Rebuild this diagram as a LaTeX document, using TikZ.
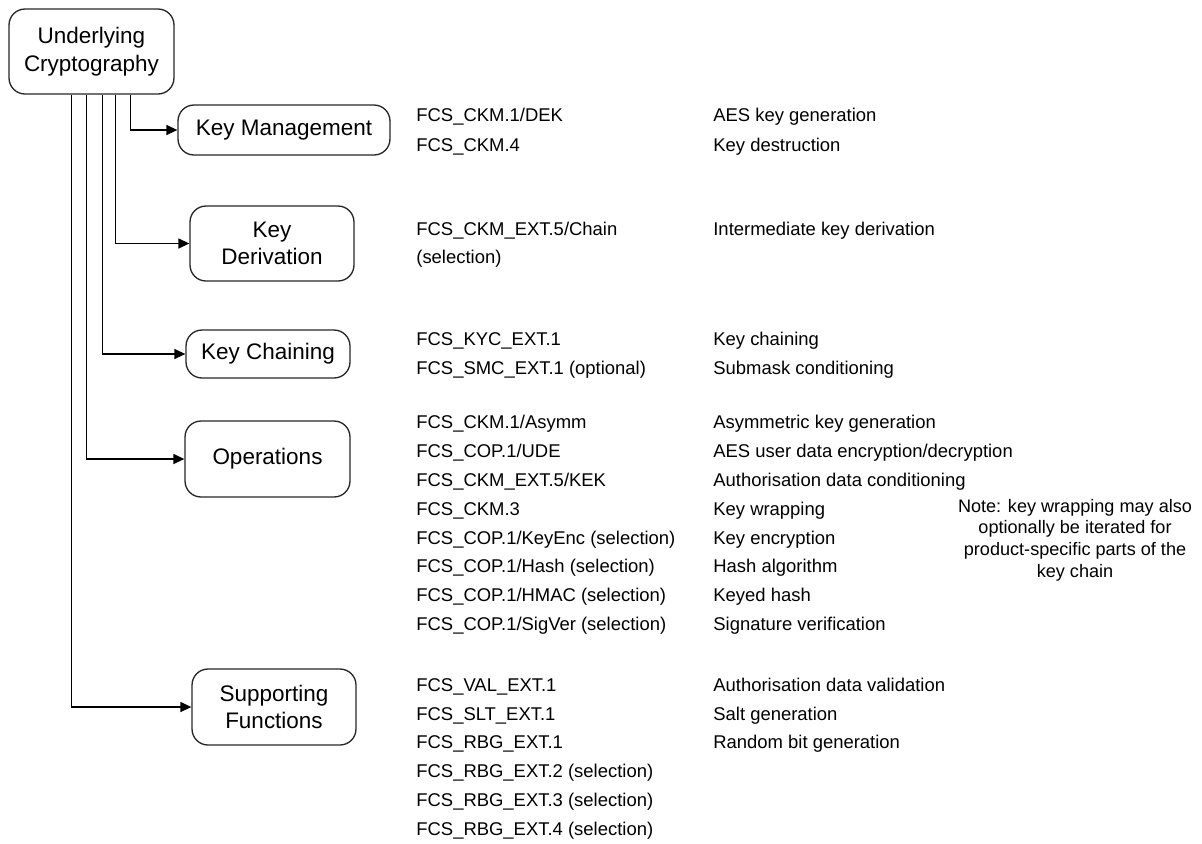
\documentclass[tikz,border=0pt]{standalone}
\usepackage{fontspec}
\setmainfont{Liberation Sans}
\usepackage{tikz}
\usetikzlibrary{arrows.meta,positioning}
\tikzset{
	>={Triangle[length=2.2mm,width=2mm]},
	block/.style = {
			draw            = black!85,
			rounded corners = 3.2mm,
			line width      = 0.75pt,
			align           = center,
			inner sep       = 0pt,
			font            = \fontsize{12.8}{15.6}\selectfont,
		},
	link/.style = {->, line width=0.75pt},
	fcs/.style = {
			anchor    = base west,
			inner sep = 0pt,
			font      = \fontsize{10.5}{12}\selectfont,
		},
	note/.style = {
			align     = center,
			inner sep = 0pt,
			font      = \fontsize{10.3}{12.4}\selectfont,
		}
}

\begin{document}
\begin{tikzpicture}[x=0.02cm,y=-0.02cm]
		\useasboundingbox (0,0) rectangle (1202,843);

		\node[block, minimum width=3.3cm,  minimum height=1.7cm]  (uc)  at (91.5,51.5) {Underlying\\Cryptography};
		\node[block, minimum width=4.24cm, minimum height=1cm]    (km)  at (284,130)   {Key Management};
		\node[block, minimum width=3.28cm, minimum height=1.5cm]  (kd)  at (272,243.5) {Key\\Derivation};
		\node[block, minimum width=3.28cm, minimum height=0.96cm] (kc)  at (268,354)   {Key Chaining};
		\node[block, minimum width=3.3cm,  minimum height=1.52cm] (ops) at (267.5,459)  {Operations};
		\node[block, minimum width=3.28cm, minimum height=1.52cm] (sf)  at (274,707)   {Supporting\\Functions};

		\foreach \dx/\B in {122/km,107/kd,94/kc,78/ops,63/sf} {
		\draw[link] ([xshift=\dx*0.02cm]uc.south west) |- (\B.west);
		}

		\foreach \y/\A [count=\i] in {
		121/{FCS\_CKM.1/DEK},
		151/{FCS\_CKM.4},
		235/{FCS\_CKM\_EXT.5/Chain},
		263/{(selection)},
		345/{FCS\_KYC\_EXT.1},
		374/{FCS\_SMC\_EXT.1 (optional)},
		428/{FCS\_CKM.1/Asymm},
		457/{FCS\_COP.1/UDE},
		486/{FCS\_CKM\_EXT.5/KEK},
		515/{FCS\_CKM.3},
		544/{FCS\_COP.1/KeyEnc (selection)},
		572/{FCS\_COP.1/Hash (selection)},
		601/{FCS\_COP.1/HMAC (selection)},
		630/{FCS\_COP.1/SigVer (selection)},
		691/{FCS\_VAL\_EXT.1},
		720/{FCS\_SLT\_EXT.1},
		748/{FCS\_RBG\_EXT.1},
		777/{FCS\_RBG\_EXT.2 (selection)},
		806/{FCS\_RBG\_EXT.3 (selection)},
		835/{FCS\_RBG\_EXT.4 (selection)}
		} {
		\node[fcs] (code\i) at (416,\y) {\A};
		}

		\foreach \y/\A [count=\i] in {
		121/{AES key generation},
		151/{Key destruction},
		235/{Intermediate key derivation},
		345/{Key chaining},
		374/{Submask conditioning},
		428/{Asymmetric key generation},
		457/{AES user data encryption/decryption},
		486/{Authorisation data conditioning},
		515/{Key wrapping},
		544/{Key encryption},
		572/{Hash algorithm},
		601/{Keyed hash},
		630/{Signature verification},
		691/{Authorisation data validation},
		720/{Salt generation},
		748/{Random bit generation}
		} {
		\node[fcs] (desc\i) at (713,\y) {\A};
		}

		\node[note] (note) at (1075,540) {Note: key wrapping may also\\
			optionally be iterated for\\
			product-specific parts of the\\
			key chain};
	\end{tikzpicture}
\end{document}
